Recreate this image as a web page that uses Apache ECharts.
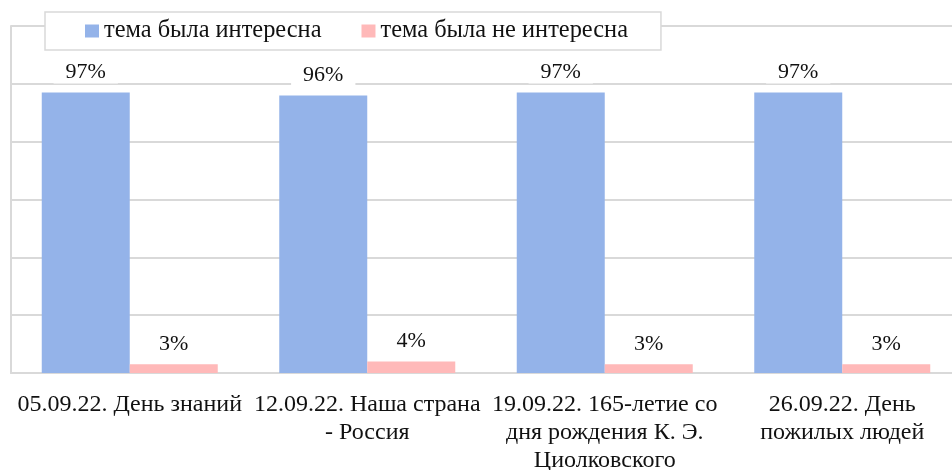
<!DOCTYPE html>
<html>
<head>
<meta charset="utf-8">
<script src="https://cdn.jsdelivr.net/npm/echarts@6/dist/echarts.min.js"></script>
<style>
  html, body { margin: 0; padding: 0; background: #fff; }
  #chart { width: 952px; height: 470px; }
</style>
</head>
<body>
<div id="chart"></div>
<script>
  const categories = [
    '05.09.22. День знаний',
    '12.09.22. Наша страна\n- Россия',
    '19.09.22. 165-летие со\nдня рождения К. Э.\nЦиолковского',
    '26.09.22. День\nпожилых людей'
  ]
  const interesting = [97, 96, 97, 97]
  const notInteresting = [3, 4, 3, 3]
  const seriesNames = ['тема была интересна', 'тема была не интересна']

  const font = 'Liberation Serif'
  const chart = echarts.init(document.getElementById('chart'))

  const labelStyle = {
    show: true,
    position: 'top',
    distance: 9,
    formatter: '{c}%',
    fontFamily: font,
    fontSize: 22,
    color: '#111',
    backgroundColor: '#fff',
    padding: [0, 12]
  }

  chart.setOption({
    animation: false,
    grid: {
      left: 11,
      right: -9,
      top: 26,
      bottom: 97,
      outerBoundsMode: 'none',
      containLabel: false
    },
    legend: {
      data: seriesNames,
      left: 45,
      top: 12,
      itemWidth: 14,
      itemHeight: 13,
      itemGap: 40,
      padding: [7, 33, 7, 40],
      backgroundColor: '#fff',
      borderColor: '#d9d9d9',
      borderWidth: 1.5,
      icon: 'rect',
      textStyle: {
        fontFamily: font,
        fontSize: 24.4,
        color: '#111'
      }
    },
    xAxis: {
      type: 'category',
      data: categories,
      axisTick: { show: false },
      axisLine: { lineStyle: { color: '#d9d9d9', width: 2 } },
      axisLabel: {
        interval: 0,
        margin: 18,
        fontFamily: font,
        fontSize: 24,
        lineHeight: 28,
        color: '#111'
      }
    },
    yAxis: {
      type: 'value',
      min: 0,
      max: 120,
      interval: 20,
      axisLabel: { show: false },
      axisTick: { show: false },
      axisLine: { show: true, lineStyle: { color: '#d9d9d9', width: 2 } },
      splitLine: { lineStyle: { color: '#d9d9d9', width: 2 } }
    },
    series: [
      {
        name: seriesNames[0],
        type: 'bar',
        data: interesting,
        barWidth: 88,
        barGap: '0%',
        itemStyle: { color: '#94b3e9' },
        label: labelStyle
      },
      {
        name: seriesNames[1],
        type: 'bar',
        data: notInteresting,
        barWidth: 88,
        itemStyle: { color: '#ffb9b9' },
        label: labelStyle
      }
    ]
  })
</script>
</body>
</html>
